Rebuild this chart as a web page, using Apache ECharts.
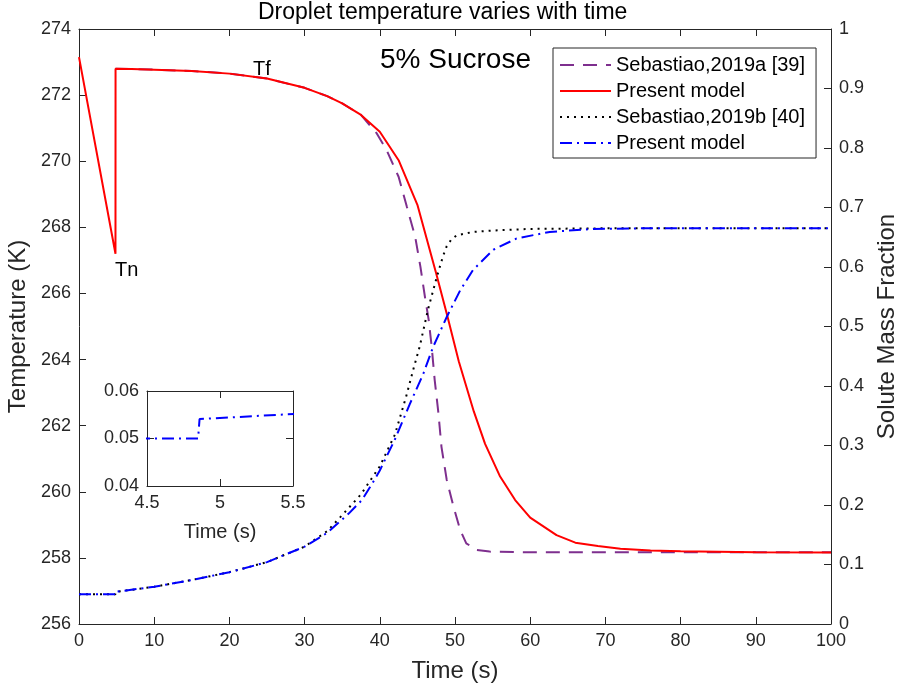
<!DOCTYPE html>
<html>
<head>
<meta charset="utf-8">
<script src="https://cdn.jsdelivr.net/npm/echarts@6/dist/echarts.min.js"></script>
<style>
html, body { margin: 0; padding: 0; background: #fff; }
#main { width: 899px; height: 690px; }
</style>
</head>
<body>
<div id="main"></div>
<script>
// droplet temperature (left axis) and solute mass fraction (right axis)
const timeRed = [0, 4.85, 4.86, 7, 10, 15, 20, 25, 30, 33, 35, 37.5, 40, 42.5, 45, 47.5, 49, 50.5, 52.5, 54, 56, 58, 60, 63.5, 66, 69, 72, 76, 80, 90, 100];
const tempRed = [273.15, 267.2, 272.8, 272.79, 272.77, 272.73, 272.65, 272.5, 272.22, 271.97, 271.75, 271.4, 270.89, 270.03, 268.68, 266.6, 265.3, 263.95, 262.43, 261.45, 260.46, 259.75, 259.22, 258.69, 258.46, 258.36, 258.28, 258.22, 258.2, 258.17, 258.16];

const timePurple = [4.86, 10, 15, 20, 25, 30, 33, 35, 37.5, 39.6, 40.9, 42.5, 43.6, 44.7, 45.4, 46, 46.5, 46.9, 47.3, 47.8, 48.2, 48.9, 49.8, 50.7, 51.5, 52.9, 54.6, 60, 80, 100];
const tempPurple = [272.8, 272.77, 272.73, 272.65, 272.5, 272.22, 271.97, 271.75, 271.4, 270.84, 270.34, 269.53, 268.62, 267.72, 266.81, 265.9, 265.2, 264.39, 263.38, 262.37, 261.36, 260.36, 259.55, 258.84, 258.44, 258.24, 258.19, 258.17, 258.17, 258.17];

const timeBlack = [0, 4.85, 4.86, 10, 15, 20, 25, 30, 33, 35, 37.5, 40, 42, 43.5, 44.5, 45.3, 46.4, 47.6, 48.4, 48.9, 49.5, 50.2, 52.4, 56, 60, 70, 100];
const fracBlack = [0.05, 0.05, 0.054, 0.0625, 0.074, 0.087, 0.104, 0.13, 0.156, 0.183, 0.218, 0.265, 0.318, 0.382, 0.43, 0.466, 0.528, 0.584, 0.618, 0.635, 0.646, 0.653, 0.659, 0.662, 0.664, 0.665, 0.665];

const timeBlue = [0, 4.85, 4.86, 10, 15, 20, 25, 30, 33, 35.9, 37.6, 39, 40, 42, 44, 45.8, 47.1, 48.9, 50.7, 52.4, 55.1, 58.2, 62.6, 68.4, 75, 100];
const fracBlue = [0.05, 0.05, 0.0541, 0.0625, 0.074, 0.087, 0.104, 0.13, 0.153, 0.186, 0.208, 0.236, 0.258, 0.31, 0.37, 0.421, 0.466, 0.516, 0.561, 0.595, 0.629, 0.648, 0.659, 0.664, 0.665, 0.665];

const seriesNames = ['Sebastiao,2019a [39]', 'Present model', 'Sebastiao,2019b [40]', 'Present model '];

const FONT = '"Liberation Sans", Arial, sans-serif';
const INK = '#262626';

function zip(xs, ys) {
    return xs.map(function (x, i) { return [x, ys[i]]; });
}

const chart = echarts.init(document.getElementById('main'));

function boxAxis(grid, pos, min, max, interval, labels, extra) {
    const ax = {
        type: 'value',
        gridIndex: grid,
        position: pos,
        min: min,
        max: max,
        interval: interval,
        splitLine: { show: false },
        axisLine: { show: true, onZero: false, lineStyle: { color: INK, width: 1 } },
        axisTick: { show: true, inside: true, length: 7, lineStyle: { color: INK } },
        axisLabel: { show: labels, color: INK, fontFamily: FONT, fontSize: 18 }
    };
    return Object.assign(ax, extra || {});
}

const option = {
    animation: false,
    backgroundColor: '#fff',
    title: {
        text: 'Droplet temperature varies with time',
        left: 258,
        top: 1,
        padding: 0,
        textStyle: { fontFamily: FONT, fontSize: 23, fontWeight: 'normal', color: '#000' }
    },
    legend: {
        data: seriesNames,
        orient: 'vertical',
        left: 553,
        top: 48,
        padding: [7, 11, 5, 6],
        itemWidth: 51,
        itemHeight: 14,
        itemGap: 6,
        backgroundColor: '#fff',
        borderColor: INK,
        borderWidth: 1,
        itemStyle: { opacity: 0 },
        formatter: function (n) { return n.trim(); },
        textStyle: { fontFamily: FONT, fontSize: 20, lineHeight: 20, color: '#000' }
    },
    grid: [
        { left: 79, right: 68, top: 29, bottom: 66, outerBoundsMode: 'none', containLabel: false },
        { left: 147, top: 391, width: 146, height: 95, show: true, backgroundColor: '#fff', borderWidth: 0, outerBoundsMode: 'none', containLabel: false }
    ],
    xAxis: [
        boxAxis(0, 'bottom', 0, 100, 10, true, {
            name: 'Time (s)', nameLocation: 'middle', nameGap: 35,
            nameTextStyle: { fontFamily: FONT, fontSize: 24, color: INK, verticalAlign: 'top' }
        }),
        boxAxis(0, 'top', 0, 100, 10, false),
        boxAxis(1, 'bottom', 4.5, 5.5, 0.5, true, {
            name: 'Time (s)', nameLocation: 'middle', nameGap: 36,
            nameTextStyle: { fontFamily: FONT, fontSize: 20, color: INK, verticalAlign: 'top' }
        }),
        boxAxis(1, 'top', 4.5, 5.5, 0.5, false)
    ],
    yAxis: [
        boxAxis(0, 'left', 256, 274, 2, true, {
            name: 'Temperature (K)', nameLocation: 'middle', nameGap: 49, nameRotate: 90,
            nameTextStyle: { fontFamily: FONT, fontSize: 24, color: INK, verticalAlign: 'bottom' }
        }),
        boxAxis(0, 'right', 0, 1, 0.1, true, {
            name: 'Solute Mass Fraction', nameLocation: 'middle', nameGap: 40, nameRotate: 90,
            nameTextStyle: { fontFamily: FONT, fontSize: 24, color: INK, verticalAlign: 'top' }
        }),
        boxAxis(1, 'left', 0.04, 0.06, 0.01, true),
        boxAxis(1, 'right', 0.04, 0.06, 0.01, false)
    ],
    series: [
        {
            name: seriesNames[0], type: 'line', xAxisIndex: 0, yAxisIndex: 0,
            symbol: 'none', data: zip(timePurple, tempPurple),
            lineStyle: { color: '#7E2F8E', width: 2, type: [14, 9] },
            itemStyle: { color: '#7E2F8E' }
        },
        {
            name: seriesNames[1], type: 'line', xAxisIndex: 0, yAxisIndex: 0,
            symbol: 'none', data: zip(timeRed, tempRed),
            lineStyle: { color: '#FF0000', width: 2, type: 'solid' },
            itemStyle: { color: '#FF0000' }
        },
        {
            name: seriesNames[2], type: 'line', xAxisIndex: 0, yAxisIndex: 1,
            symbol: 'none', data: zip(timeBlack, fracBlack),
            lineStyle: { color: '#000', width: 2, type: [2, 5] },
            itemStyle: { color: '#000' }
        },
        {
            name: seriesNames[3], type: 'line', xAxisIndex: 0, yAxisIndex: 1,
            symbol: 'none', data: zip(timeBlue, fracBlue),
            lineStyle: { color: '#0000FF', width: 2, type: [12, 5, 2, 5] },
            itemStyle: { color: '#0000FF' }
        },
        {
            // inset: zoom on the nucleation step
            name: 'inset', type: 'line', xAxisIndex: 2, yAxisIndex: 2,
            symbol: 'none', clip: true, data: zip(timeBlue, fracBlue),
            lineStyle: { color: '#0000FF', width: 2, type: [12, 5, 2, 5] },
            itemStyle: { color: '#0000FF' }
        }
    ],
    graphic: [
        { type: 'text', x: 380, y: 60, style: { text: '5% Sucrose', font: '28px ' + FONT, fill: '#000', align: 'left', verticalAlign: 'middle' } },
        { type: 'text', x: 115, y: 270, style: { text: 'Tn', font: '20px ' + FONT, fill: '#000', align: 'left', verticalAlign: 'middle' } },
        { type: 'text', x: 253, y: 69, style: { text: 'Tf', font: '20px ' + FONT, fill: '#000', align: 'left', verticalAlign: 'middle' } }
    ]
};

chart.setOption(option);
</script>
</body>
</html>
